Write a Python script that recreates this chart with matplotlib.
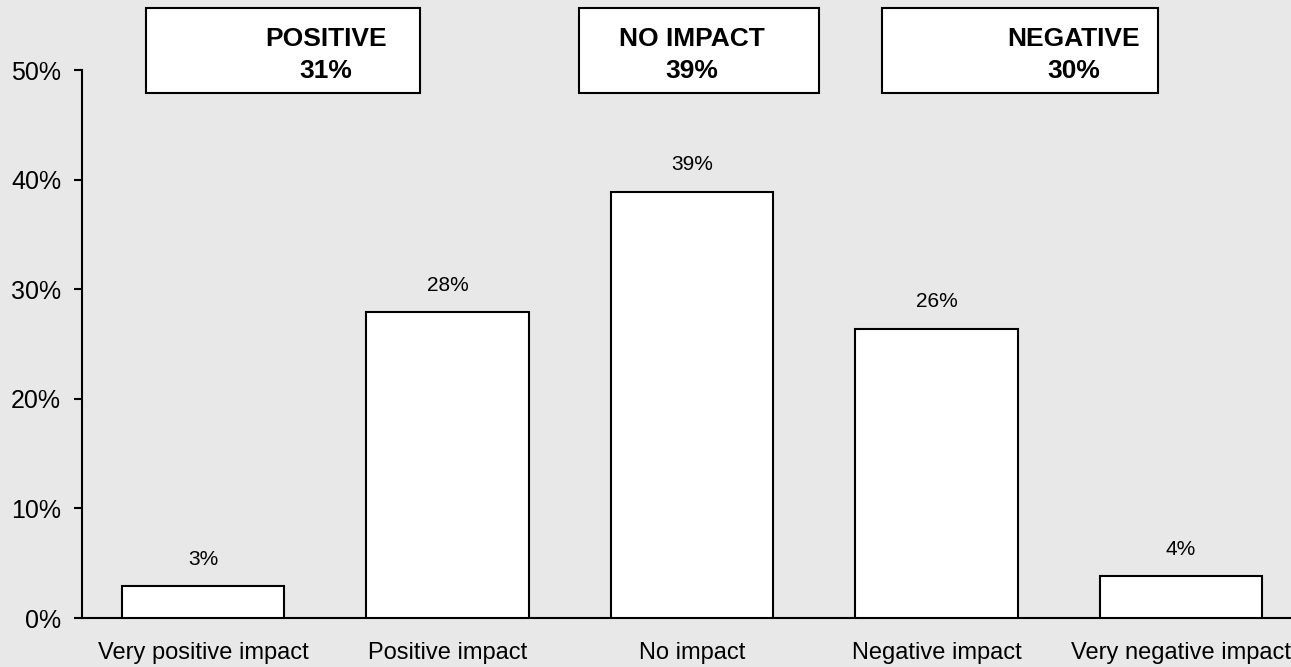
import matplotlib
matplotlib.use("Agg")
import matplotlib.pyplot as plt
from matplotlib.patches import Rectangle

categories = ["Very positive impact", "Positive impact", "No impact",
              "Negative impact", "Very negative impact"]
values = [2.9, 27.9, 38.9, 26.4, 3.8]
value_labels = ["3%", "28%", "39%", "26%", "4%"]
group_names = ["POSITIVE", "NO IMPACT", "NEGATIVE"]
group_totals = ["31%", "39%", "30%"]
yticks = [0, 10, 20, 30, 40, 50]
ytick_labels = ["0%", "10%", "20%", "30%", "40%", "50%"]

W, H = 1291, 667
plt.rcParams['font.family'] = ['Liberation Sans', 'DejaVu Sans']
bg = "#e8e8e8"
fig = plt.figure(figsize=(W / 100, H / 100), dpi=100, facecolor=bg)
ax = fig.add_axes([82 / W, (H - 618) / H, 1 - 82 / W, (618 - 70) / H])
ax.set_facecolor(bg)

x = list(range(len(categories)))
ax.bar(x, values, width=0.663, color="white", edgecolor="black", linewidth=1.5, zorder=3)
for xi, v, lab in zip(x, values, value_labels):
    ax.annotate(lab, (xi, v), xytext=(0, 19.5), textcoords="offset points",
                ha="center", va="center", fontsize=15)

ax.set_xlim(-0.495, 4.45)
ax.set_ylim(0, 50)
ax.set_yticks(yticks)
ax.set_yticklabels(ytick_labels, fontsize=18)
ax.set_xticks(x)
ax.set_xticklabels(categories, fontsize=17)
ax.tick_params(axis="y", length=6, width=1.5, pad=9)
ax.tick_params(axis="x", length=0, pad=17)
for s in ["top", "right"]:
    ax.spines[s].set_visible(False)
for s in ["left", "bottom"]:
    ax.spines[s].set_linewidth(1.5)

# Summary boxes (pixel layout)
boxes = [(146, 420, 326), (579, 819, 692), (882, 1158, 1074)]
for (x0, x1, tx), name, tot in zip(boxes, group_names, group_totals):
    r = Rectangle((x0 / W, (H - 93) / H), (x1 - x0) / W, (93 - 8) / H,
                  transform=fig.transFigure, facecolor="white",
                  edgecolor="black", linewidth=1.5)
    fig.add_artist(r)
    fig.text(tx / W, (H - 36) / H, name, ha="center", va="center_baseline",
             fontsize=19, fontweight="bold")
    fig.text(tx / W, (H - 68) / H, tot, ha="center", va="center_baseline",
             fontsize=19, fontweight="bold")

fig.savefig("out.png", dpi=100, facecolor=bg)
